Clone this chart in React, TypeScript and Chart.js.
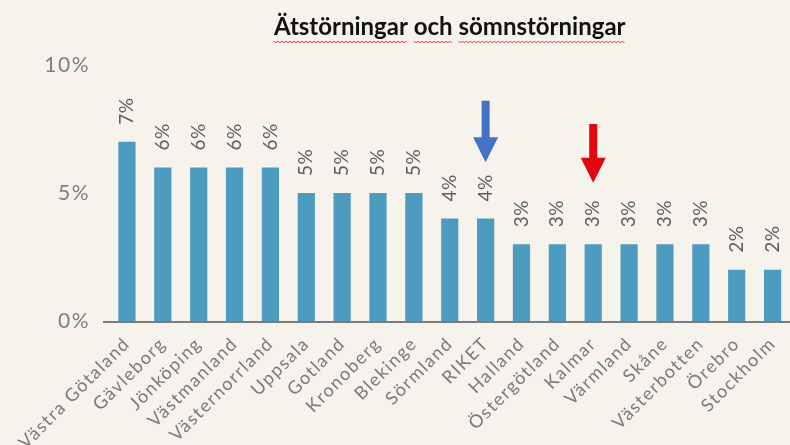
import React, { useEffect, useRef } from "react";
import { Chart, registerables } from "chart.js";

Chart.register(...registerables);

const TITLE = "Ätstörningar och sömnstörningar";
const categories = [
  "Västra Götaland", "Gävleborg", "Jönköping", "Västmanland", "Västernorrland",
  "Uppsala", "Gotland", "Kronoberg", "Blekinge", "Sörmland", "RIKET", "Halland",
  "Östergötland", "Kalmar", "Värmland", "Skåne", "Västerbotten", "Örebro", "Stockholm",
];
const values = [7, 6, 6, 6, 6, 5, 5, 5, 5, 4, 4, 3, 3, 3, 3, 3, 3, 2, 2];
const yTickValues = [0, 5, 10];
const arrowCategories = ["RIKET", "Kalmar"];
const arrowTop = [8.6, 7.7];
const arrowTip = [6.2, 5.4];
const arrowColors = ["#4472C4", "#E0070F"];

const BG = "#F6F2EC";
const BAR = "#4D9CC0";
const FONT = "Lato, 'Open Sans', sans-serif";

const decorPlugin = {
  id: "decor",
  beforeDraw(chart: any) {
    const { ctx, width, height } = chart;
    ctx.save();
    ctx.fillStyle = BG;
    ctx.fillRect(0, 0, width, height);
    ctx.restore();
    (ctx as any).letterSpacing = "1.5px";
  },
  beforeDatasetsDraw(chart: any) {
    (chart.ctx as any).letterSpacing = "0px";
  },
  afterDatasetsDraw(chart: any) {
    const { ctx, chartArea } = chart;
    const xs = chart.scales.x;
    const ys = chart.scales.y;
    // baseline
    ctx.save();
    ctx.strokeStyle = "#7c7c7c";
    ctx.lineWidth = 2;
    ctx.beginPath();
    ctx.moveTo(chartArea.left - 6, chartArea.bottom + 1);
    ctx.lineTo(chart.width, chartArea.bottom + 1);
    ctx.stroke();
    ctx.restore();

    // value labels
    const meta = chart.getDatasetMeta(0);
    ctx.save();
    ctx.fillStyle = "#5f5f5f";
    ctx.font = `19px ${FONT}`;
    (ctx as any).letterSpacing = "0.5px";
    meta.data.forEach((bar: any, i: number) => {
      ctx.save();
      ctx.translate(bar.x, bar.y - 17);
      ctx.rotate(-Math.PI / 2);
      ctx.textAlign = "left";
      ctx.textBaseline = "middle";
      ctx.fillText(values[i] + "%", 0, 0);
      ctx.restore();
    });
    (ctx as any).letterSpacing = "0px";
    ctx.restore();

    // arrows
    arrowCategories.forEach((cat, i) => {
      const x = xs.getPixelForValue(categories.indexOf(cat));
      const yTop = ys.getPixelForValue(arrowTop[i]);
      const yTip = ys.getPixelForValue(arrowTip[i]);
      const headH = 25;
      const headW = 25;
      const shaftW = 8;
      ctx.save();
      ctx.fillStyle = arrowColors[i];
      ctx.beginPath();
      ctx.moveTo(x - shaftW / 2, yTop);
      ctx.lineTo(x + shaftW / 2, yTop);
      ctx.lineTo(x + shaftW / 2, yTip - headH);
      ctx.lineTo(x + headW / 2, yTip - headH);
      ctx.lineTo(x, yTip);
      ctx.lineTo(x - headW / 2, yTip - headH);
      ctx.lineTo(x - shaftW / 2, yTip - headH);
      ctx.closePath();
      ctx.fill();
      ctx.restore();
    });

    // title
    ctx.save();
    ctx.font = `bold 24px ${FONT}`;
    ctx.fillStyle = "#111111";
    ctx.textAlign = "left";
    ctx.textBaseline = "alphabetic";
    const tw = ctx.measureText(TITLE).width;
    const cx = (chartArea.left + chartArea.right) / 2;
    const startX = cx - tw / 2;
    const baseY = 35;
    ctx.fillText(TITLE, startX, baseY);
    // spell-check squiggles under each word
    ctx.strokeStyle = "#E8303A";
    ctx.lineWidth = 1;
    let pos = startX;
    const words = TITLE.split(" ");
    const spaceW = ctx.measureText(" ").width;
    words.forEach((w) => {
      const ww = ctx.measureText(w).width;
      ctx.beginPath();
      let up = true;
      for (let px = pos; px <= pos + ww; px += 2) {
        const yy = baseY + 7 + (up ? -1 : 1);
        if (px === pos) ctx.moveTo(px, yy);
        else ctx.lineTo(px, yy);
        up = !up;
      }
      ctx.stroke();
      pos += ww + spaceW;
    });
    ctx.restore();
  },
};

export default function App() {
  const ref = useRef<HTMLCanvasElement | null>(null);
  useEffect(() => {
    if (!ref.current) return;
    const chart = new Chart(ref.current, {
      type: "bar",
      data: {
        labels: categories,
        datasets: [
          {
            data: values,
            backgroundColor: BAR,
            borderWidth: 0,
            barPercentage: 0.48,
            categoryPercentage: 1,
          },
        ],
      },
      options: {
        animation: false,
        responsive: false,
        devicePixelRatio: 1,
        layout: { padding: { top: 65, right: 6, left: 0, bottom: 0 } },
        plugins: {
          legend: { display: false },
          tooltip: { enabled: false },
          title: { display: false },
        },
        scales: {
          x: {
            grid: { display: false, drawTicks: false },
            border: { display: false },
            ticks: {
              autoSkip: false,
              maxRotation: 45,
              minRotation: 45,
              padding: 12,
              color: "#7a7a7a",
              font: { family: FONT, size: 18 },
            },
            afterFit: (s: any) => {
              s.height = 124;
            },
          },
          y: {
            min: 0,
            max: 10,
            afterBuildTicks: (s: any) => {
              s.ticks = yTickValues.map((v) => ({ value: v }));
            },
            grid: { display: false, drawTicks: false },
            border: { display: false },
            ticks: {
              padding: 19,
              color: "#7f7f7f",
              font: { family: FONT, size: 21 },
              callback: (v: any) => v + "%",
            },
            afterFit: (s: any) => {
              s.width = 109;
            },
          },
        },
      },
      plugins: [decorPlugin],
    });
    return () => chart.destroy();
  }, []);
  return (
    <div style={{ position: "fixed", left: 0, top: 0, width: 800, height: 445, overflow: "hidden", background: BG }}>
      <canvas ref={ref} width={800} height={445} style={{ display: "block" }} />
    </div>
  );
}
